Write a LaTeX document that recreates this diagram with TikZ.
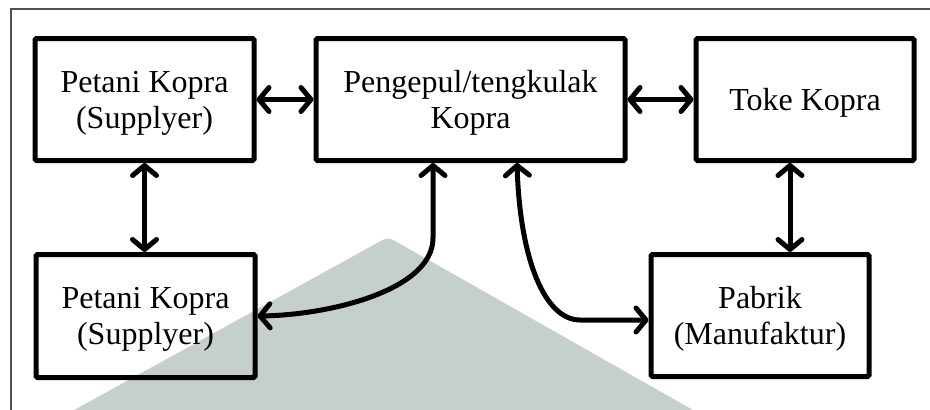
\documentclass[tikz,border=0pt]{standalone}
\usepackage{fontspec}
\setmainfont{Liberation Serif}
\usetikzlibrary{arrows.meta,calc}

\definecolor{markgray}{HTML}{C5D0CC}
\definecolor{framegray}{HTML}{505050}

% strut that lowers the first line of a box label a little
\newcommand{\lowstrut}{\rule{0pt}{28pt}}

\tikzset{
  box/.style={draw, line width=5pt, rounded corners=1.5pt, align=center,
    inner sep=0pt, font=\fontsize{32}{36}\selectfont},
  tip/.tip={Straight Barb[length=10pt,width=24pt,line cap=round,line join=round]},
  conn/.style={line width=5pt, line cap=round, {tip}-{tip}},
}

\begin{document}
\begin{tikzpicture}[x=1pt,y=-1pt]
  \useasboundingbox (0,0) rectangle (930,410);

  % background mark
  \begin{scope}
    \clip (0,0) rectangle (930,410);
    \fill[markgray, rounded corners=6pt] (67,414) -- (388,237) -- (700,414) -- cycle;
  \end{scope}

  % frame
  \draw[framegray, line width=1.3pt] (11,412) -- (11,9) -- (932,9);

  % boxes
  \node[box, minimum width=219pt, minimum height=122pt] (A) at (144.5,99.5)
    {\lowstrut Petani Kopra\\(Supplyer)};
  \node[box, minimum width=309pt, minimum height=122pt] (B) at (470.5,99.5)
    {\lowstrut Pengepul/tengkulak\\Kopra};
  \node[box, minimum width=218pt, minimum height=122pt] (C) at (805,99.5)
    {\lowstrut Toke Kopra};
  \node[box, minimum width=219pt, minimum height=123pt] (D) at (145.5,316)
    {\lowstrut Petani Kopra\\(Supplyer)};
  \node[box, minimum width=218pt, minimum height=122pt] (E) at (760,315.5)
    {\lowstrut Pabrik\\(Manufaktur)};

  % connector end points under the boxes
  \coordinate (ce) at ($(C.south)+(-15,0)$);
  \coordinate (bl) at ($(B.south)+(-37.5,0)$);
  \coordinate (br) at ($(B.south)+(46.5,0)$);

  % connectors
  \draw[conn] (A.east) -- (B.west);
  \draw[conn] (B.east) -- (C.west);
  \draw[conn] (A.south) -- (A.south |- D.north);
  \draw[conn] (ce) -- (ce |- E.north);
  \draw[conn] (D.east) .. controls (330,315) and ($(bl)+(0,127)$) ..
    ($(bl)+(0,75)$) -- (bl);
  \draw[conn] (br) .. controls ($(br)+(3,97)$) and (545,320) ..
    (580,320) -- ($(E.west)+(0,4.5)$);
\end{tikzpicture}
\end{document}
